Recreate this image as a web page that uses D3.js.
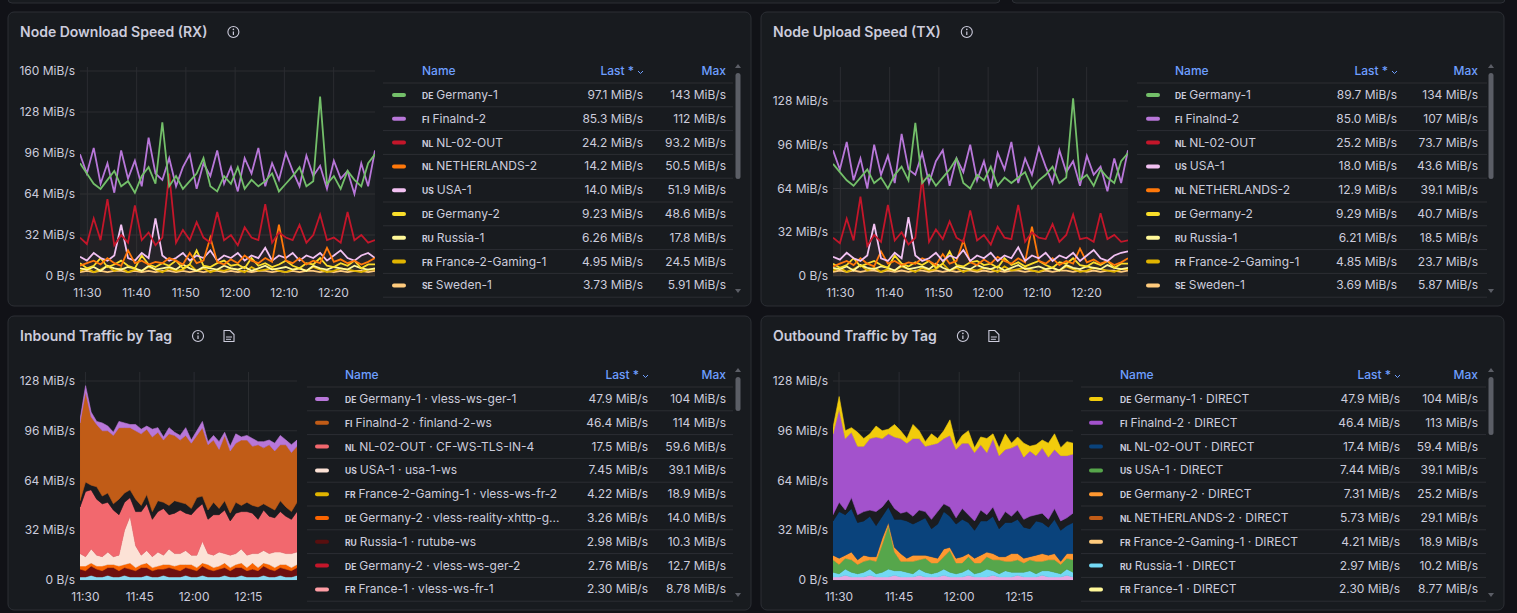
<html>
<head>
<meta charset="utf-8">
<script src="https://cdn.jsdelivr.net/npm/d3@7"></script>
<style>
  body { margin: 0; background: #111217; font-family: Inter, "Noto Sans", sans-serif; }
  svg text { font-family: Inter, "Noto Sans", sans-serif; }
</style>
</head>
<body>
<svg id="dash" width="1517" height="613"></svg>
<script>
// ---- data (MiB/s) ----
const tStart = new Date(2024, 0, 1, 11, 28, 30), tEnd = new Date(2024, 0, 1, 12, 28, 24);

const rxNames = ["Germany-1","Finalnd-2","NL-02-OUT","NETHERLANDS-2","USA-1","Germany-2","Russia-1","France-2-Gaming-1","Sweden-1"];
const rxCodes = ["DE","FI","NL","NL","US","DE","RU","FR","SE"];
const rxColors = ["#73bf69","#b877d9","#c4162a","#ff780a","#f2c1f2","#fade2a","#fff899","#e0b400","#ffcb7d"];
const rxLast = ["97.1 MiB/s","85.3 MiB/s","24.2 MiB/s","14.2 MiB/s","14.0 MiB/s","9.23 MiB/s","6.26 MiB/s","4.95 MiB/s","3.73 MiB/s"];
const rxMax = ["143 MiB/s","112 MiB/s","93.2 MiB/s","50.5 MiB/s","51.9 MiB/s","48.6 MiB/s","17.8 MiB/s","24.5 MiB/s","5.91 MiB/s"];
const rxValues = [
  [88,80,72,68,75,82,70,74,65,78,85,72,120,70,78,68,74,80,92,70,66,78,72,85,68,75,70,74,80,66,72,78,85,70,74,140,72,78,68,82,75,70,88,95],
  [95,80,100,72,88,65,98,76,90,70,108,80,75,92,70,85,95,68,88,78,98,72,85,66,92,80,100,70,88,75,96,82,70,94,78,86,68,90,76,82,64,88,70,98],
  [30,25,45,28,60,24,32,26,55,28,34,24,30,80,26,36,28,42,30,26,50,28,32,24,38,30,28,56,26,34,30,28,40,26,32,48,28,30,26,50,28,32,26,28],
  [8,10,12,9,14,10,8,20,10,12,9,11,10,14,12,9,18,10,12,30,11,9,13,10,16,12,10,14,11,40,12,10,14,9,12,10,22,11,13,10,12,9,11,14],
  [15,12,18,14,12,16,40,14,12,18,14,45,16,12,14,18,12,16,14,20,12,16,14,18,12,16,14,22,12,16,14,18,12,16,14,18,12,16,20,14,12,16,18,14],
  [10,6,8,14,7,9,12,8,6,16,9,7,10,8,12,6,9,20,8,7,10,12,8,9,6,14,8,10,7,9,12,8,6,10,9,14,8,7,10,8,12,6,9,9],
  [6,5,7,4,8,6,5,7,6,4,8,5,6,7,5,9,6,4,7,6,5,8,6,5,7,4,6,8,5,6,7,5,6,4,8,6,5,7,6,5,8,6,5,6],
  [4,6,3,5,8,4,6,3,5,4,7,5,3,6,4,5,9,4,6,3,5,4,6,5,3,7,4,5,6,4,3,5,6,4,7,5,3,4,6,5,4,3,5,5],
  [3,4,3,4,3,4,4,3,4,3,4,3,4,4,3,4,3,4,3,4,4,3,4,3,4,3,4,4,3,4,3,4,3,4,4,3,4,3,4,3,4,4,3,4]
];

const txNames = ["Germany-1","Finalnd-2","NL-02-OUT","USA-1","NETHERLANDS-2","Germany-2","Russia-1","France-2-Gaming-1","Sweden-1"];
const txCodes = ["DE","FI","NL","US","NL","DE","RU","FR","SE"];
const txColors = ["#73bf69","#b877d9","#c4162a","#f2c1f2","#ff780a","#fade2a","#fff899","#e0b400","#ffcb7d"];
const txLast = ["89.7 MiB/s","85.0 MiB/s","25.2 MiB/s","18.0 MiB/s","12.9 MiB/s","9.29 MiB/s","6.21 MiB/s","4.85 MiB/s","3.69 MiB/s"];
const txMax = ["134 MiB/s","107 MiB/s","73.7 MiB/s","43.6 MiB/s","39.1 MiB/s","40.7 MiB/s","18.5 MiB/s","23.7 MiB/s","5.87 MiB/s"];
const txValues = [
  [82,76,70,66,72,78,68,72,64,74,80,70,112,68,74,66,72,78,86,68,64,74,70,80,66,72,68,72,76,64,70,74,80,68,72,130,70,74,66,78,72,68,84,90],
  [92,78,98,70,86,64,96,74,88,68,104,78,74,90,68,84,92,66,86,76,96,70,84,64,90,78,98,68,86,74,94,80,68,92,76,84,66,88,74,80,62,86,68,92],
  [28,24,42,26,58,22,30,25,52,26,32,23,28,72,25,34,27,40,28,25,48,26,30,23,36,28,27,52,25,32,28,27,38,25,30,45,27,28,25,46,27,30,25,26],
  [14,12,17,13,11,15,38,13,11,17,13,43,15,11,13,17,11,15,13,19,11,15,13,17,11,15,13,21,11,15,13,17,11,15,13,17,11,15,19,13,11,15,17,18],
  [7,9,11,8,13,9,7,18,9,11,8,10,9,13,11,8,16,9,11,26,10,8,12,9,14,11,9,13,10,36,11,9,13,8,11,9,20,10,12,9,11,8,10,13],
  [9,6,8,13,7,9,11,8,6,15,9,7,10,8,11,6,9,18,8,7,10,11,8,9,6,13,8,10,7,9,11,8,6,10,9,13,8,7,10,8,11,6,9,9],
  [6,5,7,4,8,6,5,7,6,4,8,5,6,7,5,9,6,4,7,6,5,8,6,5,7,4,6,8,5,6,7,5,6,4,8,6,5,7,6,5,8,6,5,6],
  [4,6,3,5,8,4,6,3,5,4,7,5,3,6,4,5,9,4,6,3,5,4,6,5,3,7,4,5,6,4,3,5,6,4,7,5,3,4,6,5,4,3,5,5],
  [3,4,3,4,3,4,4,3,4,3,4,3,4,4,3,4,3,4,3,4,4,3,4,3,4,3,4,4,3,4,3,4,3,4,4,3,4,3,4,3,4,4,3,4]
];

// stacked panels: series listed bottom-of-stack first
const inNames = ["Germany-1 · vless-ws-ger-1","Finalnd-2 · finland-2-ws","NL-02-OUT · CF-WS-TLS-IN-4","USA-1 · usa-1-ws","France-2-Gaming-1 · vless-ws-fr-2","Germany-2 · vless-reality-xhttp-g...","Russia-1 · rutube-ws","Germany-2 · vless-ws-ger-2","France-1 · vless-ws-fr-1"];
const inCodes = ["DE","FI","NL","US","FR","DE","RU","DE","FR"];
const inColors = ["#b877d9","#c15c17","#f2686e","#fce2d6","#e0b400","#fa6400","#580f0f","#c4162a","#ff9ea5"];
const inLast = ["47.9 MiB/s","46.4 MiB/s","17.5 MiB/s","7.45 MiB/s","4.22 MiB/s","3.26 MiB/s","2.98 MiB/s","2.76 MiB/s","2.30 MiB/s"];
const inMax = ["104 MiB/s","114 MiB/s","59.6 MiB/s","39.1 MiB/s","18.9 MiB/s","14.0 MiB/s","10.3 MiB/s","12.7 MiB/s","8.78 MiB/s"];
const inStackKeys = ["misc","russia","orange","usa","nl","gap","fin","ger"];
const inStackColors = ["#8ad8f0","#6e1010","#fa6400","#fce2d6","#f2686e","#1b1c20","#c15c17","#b877d9"];
const inStack = {
  misc:   [2,2,3,2,2,3,2,2,3,2,2,2,3,2,2,3,2,2,2,3,2,2,3,2,2,2,3,2,2,3,2,2,2,3,2,2,3,2,2,3],
  russia: [5,4,6,5,4,5,6,4,5,5,4,6,5,4,5,4,6,5,4,5,5,4,6,5,4,5,5,4,6,5,4,5,4,6,5,4,5,5,4,5],
  orange: [2,3,2,2,3,2,2,3,2,4,2,2,3,2,2,3,2,2,4,2,3,2,2,3,2,2,3,2,2,3,2,4,2,2,3,2,2,3,2,2],
  usa:    [8,6,9,7,6,8,5,7,22,30,14,6,8,7,9,6,10,8,7,9,6,8,14,7,8,9,6,8,7,9,8,6,9,8,7,10,8,7,9,8],
  nl:     [30,42,38,36,34,32,30,26,18,12,22,28,30,24,26,30,22,26,28,24,26,30,24,22,26,24,28,22,26,24,28,26,22,26,24,22,26,24,22,26],
  gap:    [4,6,3,8,5,6,4,10,6,5,8,4,6,5,7,4,6,8,5,6,4,7,5,6,8,4,6,5,7,4,6,5,8,4,6,5,7,6,5,6],
  fin:    [50,58,44,40,42,40,44,46,42,40,44,46,42,48,44,40,46,42,40,44,42,40,44,42,40,38,42,40,38,42,40,38,40,36,40,38,36,40,38,36],
  ger:    [2,4,3,2,5,3,2,4,3,2,4,3,2,5,3,2,4,2,3,5,2,3,4,2,3,5,2,3,6,2,3,5,2,4,3,5,6,3,5,4]
};

const outNames = ["Germany-1 · DIRECT","Finalnd-2 · DIRECT","NL-02-OUT · DIRECT","USA-1 · DIRECT","Germany-2 · DIRECT","NETHERLANDS-2 · DIRECT","France-2-Gaming-1 · DIRECT","Russia-1 · DIRECT","France-1 · DIRECT"];
const outCodes = ["DE","FI","NL","US","DE","NL","FR","RU","FR"];
const outColors = ["#f2cc0c","#a352cc","#0a437c","#56a64b","#ff9830","#c15c17","#ffcb7d","#73d9f5","#fff899"];
const outLast = ["47.9 MiB/s","46.4 MiB/s","17.4 MiB/s","7.44 MiB/s","7.31 MiB/s","5.73 MiB/s","4.21 MiB/s","2.97 MiB/s","2.30 MiB/s"];
const outMax = ["104 MiB/s","113 MiB/s","59.4 MiB/s","39.1 MiB/s","25.2 MiB/s","29.1 MiB/s","18.9 MiB/s","10.2 MiB/s","8.77 MiB/s"];
const outStackKeys = ["france1","russia","usa","ger2","nl","gap","fin","ger"];
const outStackColors = ["#e5a8e2","#73d9f5","#56a64b","#ff9830","#0a437c","#1b1c20","#a352cc","#f2cc0c"];
const outStack = {
  france1:[2,2,3,2,2,2,3,2,2,2,3,2,2,2,3,2,2,2,3,2,2,2,3,2,2,2,3,2,2,2,3,2,2,2,3,2,2,2,3,2],
  russia: [3,2,4,3,2,3,4,2,3,5,3,4,3,2,4,3,2,3,4,3,2,3,4,2,3,5,3,2,4,3,2,3,4,2,3,4,3,2,4,3],
  usa:    [8,6,7,8,6,7,6,8,18,28,12,6,7,8,6,9,7,6,8,14,7,6,8,7,6,8,7,9,6,7,8,6,7,8,6,7,8,6,7,8],
  ger2:   [3,4,2,5,3,4,2,3,4,2,3,5,2,4,3,2,4,3,5,2,3,4,2,3,5,3,4,2,3,5,4,3,2,4,5,3,4,2,3,4],
  nl:     [22,30,26,28,24,22,26,20,14,10,18,22,24,20,22,24,18,22,24,20,22,24,20,18,22,20,24,18,22,20,22,20,18,22,20,18,22,20,18,20],
  gap:    [4,6,3,7,5,6,4,9,6,5,7,4,6,5,7,4,6,8,5,6,4,7,5,6,7,4,6,5,7,4,6,5,8,4,6,5,7,6,5,6],
  fin:    [52,60,46,42,44,42,46,48,44,42,46,48,44,50,46,42,48,44,42,46,44,42,46,44,42,40,44,42,40,44,42,40,42,38,42,40,38,42,40,38],
  ger:    [4,8,5,3,9,5,3,7,5,3,8,5,3,9,5,3,7,3,5,10,3,5,8,3,5,9,3,5,10,3,5,9,3,7,5,9,10,5,9,7]
};

const yTicksTop = [0,32,64,96,128,160];
const yTicksBottom = [0,32,64,96,128];

// ---- drawing ----
const svg = d3.select("#dash");
const textCol = "#ccccdc", gridCol = "#2a2c31", sepCol = "#2c2e33", blue = "#6e9fff";
const fmtY = v => v === 0 ? "0 B/s" : v + " MiB/s";

// strip of the panels above
svg.append("rect").attr("x", 8).attr("y", -10).attr("width", 992).attr("height", 13).attr("rx", 4)
  .attr("fill", "#181b1f").attr("stroke", "#2c2f35");
svg.append("rect").attr("x", 1012).attr("y", -10).attr("width", 493).attr("height", 13).attr("rx", 4)
  .attr("fill", "#181b1f").attr("stroke", "#2c2f35");

function infoIcon(g, x, y) {
  g.append("circle").attr("cx", x).attr("cy", y).attr("r", 5.5).attr("fill", "none").attr("stroke", textCol).attr("stroke-width", 1.1);
  g.append("line").attr("x1", x).attr("x2", x).attr("y1", y - 0.5).attr("y2", y + 3).attr("stroke", textCol).attr("stroke-width", 1.2);
  g.append("circle").attr("cx", x).attr("cy", y - 2.6).attr("r", 0.8).attr("fill", textCol);
}
function docIcon(g, x, y) {
  g.append("path").attr("d", `M${x-5},${y-5.5}h6l4,4v7h-10z`).attr("fill", "none").attr("stroke", textCol).attr("stroke-width", 1.1);
  g.append("line").attr("x1", x - 3).attr("x2", x + 3).attr("y1", y + 1).attr("y2", y + 1).attr("stroke", textCol);
  g.append("line").attr("x1", x - 3).attr("x2", x + 2).attr("y1", y + 3.3).attr("y2", y + 3.3).attr("stroke", textCol);
}

function drawPanel(c) {
  const g = svg.append("g");
  g.append("rect").attr("x", c.px).attr("y", c.py).attr("width", c.pw).attr("height", c.ph).attr("rx", 6)
    .attr("fill", "#181b1f").attr("stroke", "#2c2f35");
  const title = g.append("text").attr("x", c.px + 12).attr("y", c.py + 25).attr("fill", textCol)
    .attr("font-size", 14).attr("font-weight", 600).text(c.title);
  const tw = title.node().getComputedTextLength();
  infoIcon(g, c.px + 12 + tw + 26, c.py + 20);
  if (c.doc) docIcon(g, c.px + 12 + tw + 57, c.py + 20);

  const x = d3.scaleTime().domain([tStart, tEnd]).range([c.x0, c.x1]);
  const y = d3.scaleLinear().domain([0, c.yMax]).range([c.yb, c.yt]);

  // grid
  g.append("g").selectAll("line").data(c.yTicks).join("line")
    .attr("x1", c.x0).attr("x2", c.x1).attr("y1", d => y(d)).attr("y2", d => y(d)).attr("stroke", gridCol);
  const xt = x.ticks(d3.timeMinute.every(c.xStep));
  g.append("g").selectAll("line").data(xt).join("line")
    .attr("x1", d => x(d)).attr("x2", d => x(d)).attr("y1", c.gridTop).attr("y2", c.yb).attr("stroke", gridCol);

  g.append("g").selectAll("text").data(c.yTicks).join("text")
    .attr("x", c.x0 - 5).attr("y", d => y(d) + 4).attr("text-anchor", "end").attr("fill", textCol).attr("font-size", 12)
    .text(fmtY);
  g.append("g").selectAll("text").data(xt).join("text")
    .attr("x", d => x(d)).attr("y", c.yb + 21).attr("text-anchor", "middle").attr("fill", textCol).attr("font-size", 12)
    .text(d3.timeFormat("%H:%M"));

  const clipId = "clip" + c.px + c.py;
  g.append("clipPath").attr("id", clipId).append("rect").attr("x", c.x0).attr("y", c.gridTop).attr("width", c.x1 - c.x0).attr("height", c.yb - c.gridTop);
  const plot = g.append("g").attr("clip-path", `url(#${clipId})`);

  if (c.lines) {
    const n = c.lines[0].length;
    const tx = i => new Date(+tStart + (tEnd - tStart) * i / (n - 1));
    const line = d3.line().x((d, i) => x(tx(i))).y(d => y(d));
    const area = d3.area().x((d, i) => x(tx(i))).y0(y(0)).y1(d => y(d));
    const order = c.lines.map((d, i) => i).reverse();
    order.forEach(i => {
      plot.append("path").datum(c.lines[i]).attr("d", area).attr("fill", c.lineColors[i]).attr("fill-opacity", 0.025);
    });
    order.forEach(i => {
      plot.append("path").datum(c.lines[i]).attr("d", line).attr("fill", "none")
        .attr("stroke", c.lineColors[i]).attr("stroke-width", 1.8);
    });
  } else {
    const n = c.stack[c.stackKeys[0]].length;
    const rows = d3.range(n).map(i => { const r = { t: new Date(+tStart + (tEnd - tStart) * i / (n - 1)) }; c.stackKeys.forEach(k => r[k] = c.stack[k][i]); return r; });
    const layers = d3.stack().keys(c.stackKeys)(rows);
    const area = d3.area().x(d => x(d.data.t)).y0(d => y(d[0])).y1(d => y(d[1]));
    plot.selectAll("path").data(layers).join("path").attr("d", area)
      .attr("fill", (d, i) => c.stackColors[i]).attr("stroke", (d, i) => c.stackColors[i]).attr("stroke-width", 0.6);
  }

  // legend table
  const L = c.leg;
  g.append("text").attr("x", L.name).attr("y", L.head + 4).attr("fill", blue).attr("font-size", 12).attr("font-weight", 500).text("Name");
  g.append("text").attr("x", L.last - 9).attr("y", L.head + 4).attr("text-anchor", "end").attr("fill", blue).attr("font-size", 12).attr("font-weight", 500).text("Last *");
  g.append("path").attr("d", `M${L.last - 5},${L.head}l2.5,2.5l2.5,-2.5`).attr("fill", "none").attr("stroke", blue).attr("stroke-width", 1);
  g.append("text").attr("x", L.max).attr("y", L.head + 4).attr("text-anchor", "end").attr("fill", blue).attr("font-size", 12).attr("font-weight", 500).text("Max");
  const rowH = 23.8;
  for (let i = 0; i <= c.names.length; i++) {
    g.append("line").attr("x1", L.l).attr("x2", L.r).attr("y1", L.head + 12 + i * rowH).attr("y2", L.head + 12 + i * rowH).attr("stroke", sepCol);
  }
  c.names.forEach((nm, i) => {
    const cy = L.head + 24 + i * rowH;
    g.append("rect").attr("x", L.sw).attr("y", cy - 2).attr("width", 14).attr("height", 4).attr("rx", 2).attr("fill", c.colors[i]);
    const t = g.append("text").attr("x", L.name).attr("y", cy + 4).attr("fill", textCol).attr("font-size", 12);
    t.append("tspan").attr("font-size", 8.5).attr("font-weight", 700).text(c.codes[i]);
    t.append("tspan").attr("dx", 3).text(nm);
    g.append("text").attr("x", L.last).attr("y", cy + 4).attr("text-anchor", "end").attr("fill", textCol).attr("font-size", 12).text(c.last[i]);
    g.append("text").attr("x", L.max).attr("y", cy + 4).attr("text-anchor", "end").attr("fill", textCol).attr("font-size", 12).text(c.max[i]);
  });
  // scrollbar
  g.append("path").attr("d", `M${L.sb - 3},${L.head - 3}l3,-4l3,4z`).attr("fill", "#5b5e66");
  g.append("rect").attr("x", L.sb - 2.5).attr("y", L.head + 2).attr("width", 5).attr("height", c.thumb).attr("rx", 2.5).attr("fill", "#5b5e66");
  g.append("path").attr("d", `M${L.sb - 3},${L.head + 218}l3,4l3,-4z`).attr("fill", "#5b5e66");
}

drawPanel({ px: 8, py: 12, pw: 743, ph: 294, title: "Node Download Speed (RX)", doc: false,
  x0: 80, x1: 375, yb: 276, yt: 71, yMax: 160, gridTop: 67, yTicks: yTicksTop, xStep: 10,
  lines: rxValues, lineColors: rxColors,
  names: rxNames, codes: rxCodes, colors: rxColors, last: rxLast, max: rxMax, thumb: 106,
  leg: { l: 383, r: 733, sw: 392, name: 422, last: 643, max: 726, head: 71, sb: 738 } });

drawPanel({ px: 761, py: 12, pw: 743, ph: 294, title: "Node Upload Speed (TX)", doc: false,
  x0: 833, x1: 1128, yb: 276, yt: 101, yMax: 128, gridTop: 67, yTicks: yTicksBottom, xStep: 10,
  lines: txValues, lineColors: txColors,
  names: txNames, codes: txCodes, colors: txColors, last: txLast, max: txMax, thumb: 106,
  leg: { l: 1137, r: 1487, sw: 1146, name: 1175, last: 1397, max: 1478, head: 71, sb: 1491 } });

drawPanel({ px: 8, py: 316, pw: 743, ph: 294, title: "Inbound Traffic by Tag", doc: true,
  x0: 80, x1: 297, yb: 580, yt: 381, yMax: 128, gridTop: 372, yTicks: yTicksBottom, xStep: 15,
  stack: inStack, stackKeys: inStackKeys, stackColors: inStackColors,
  names: inNames, codes: inCodes, colors: inColors, last: inLast, max: inMax, thumb: 34,
  leg: { l: 307, r: 733, sw: 315, name: 345, last: 648, max: 726, head: 375, sb: 738 } });

drawPanel({ px: 761, py: 316, pw: 743, ph: 294, title: "Outbound Traffic by Tag", doc: true,
  x0: 833, x1: 1073, yb: 580, yt: 381, yMax: 128, gridTop: 372, yTicks: yTicksBottom, xStep: 15,
  stack: outStack, stackKeys: outStackKeys, stackColors: outStackColors,
  names: outNames, codes: outCodes, colors: outColors, last: outLast, max: outMax, thumb: 58,
  leg: { l: 1081, r: 1486, sw: 1089, name: 1120, last: 1400, max: 1478, head: 375, sb: 1491 } });
</script>
</body>
</html>
